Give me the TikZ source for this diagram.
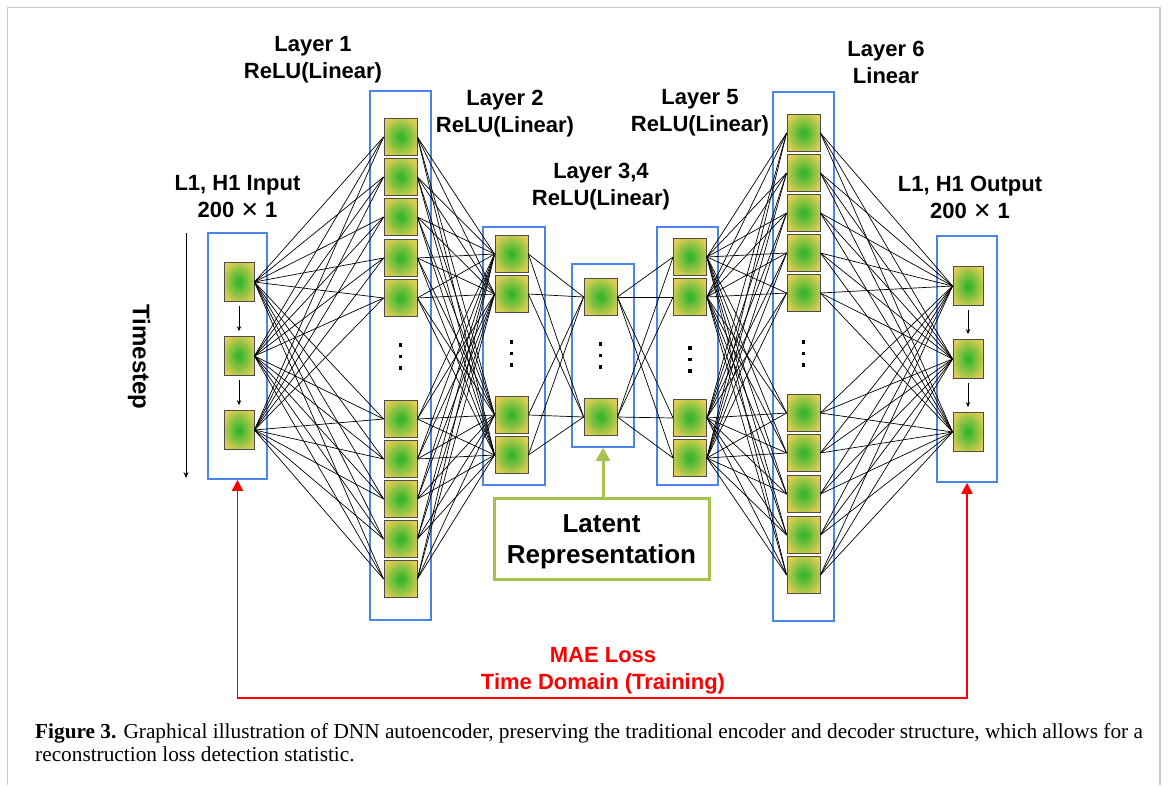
\documentclass[tikz,border=0pt]{standalone}
\usepackage{fontspec}
\setmainfont{Liberation Sans}
\newfontfamily\capfont{Liberation Serif}
\newfontfamily\symf{DejaVu Sans}
\usetikzlibrary{arrows.meta}
\definecolor{ngreen}{RGB}{56,182,46}
\definecolor{nyellow}{RGB}{226,206,84}
\definecolor{boxblue}{RGB}{74,134,232}
\definecolor{olive}{RGB}{164,194,76}
\definecolor{lossred}{RGB}{255,0,0}
\definecolor{framegray}{RGB}{200,200,200}
\pgfdeclareradialshading{neuronshade}{\pgfpoint{0bp}{0bp}}{color(0bp)=(ngreen); color(3bp)=(ngreen); color(30bp)=(nyellow); color(50bp)=(nyellow)}
\tikzset{
  neuron/.style={draw=black!70, line width=0.8pt, minimum width=33pt, minimum height=37pt, inner sep=0pt, shading=neuronshade},
  ioneuron/.style={neuron, minimum width=30pt, minimum height=39pt},
  layerbox/.style={draw=boxblue, line width=1.6pt, inner sep=0pt},
  conn/.style={line width=0.7pt, black},
  lbl/.style={font=\bfseries\fontsize{22}{27}\selectfont, align=center, inner sep=0pt},
  smallarrow/.style={line width=0.8pt, -{Stealth[length=5pt,width=4.5pt]}, shorten <=4pt, shorten >=5pt},
  lossline/.style={draw=lossred, line width=1.6pt, {Triangle[width=11pt,length=11pt]}-{Triangle[width=11pt,length=11pt]}},
  latarrow/.style={draw=olive, line width=3pt, -{Triangle[width=14pt,length=13pt]}},
}
\begin{document}
\begin{tikzpicture}[x=1pt,y=-1pt]
\useasboundingbox (0,0) rectangle (1170,785);
% frame
\draw[framegray, line width=1.5pt] (7.5,785) -- (7.5,7.5) -- (1160,7.5) -- (1160,785);

% layer boxes
\node[layerbox, minimum width=59pt, minimum height=246pt] (b0) at (237.5,356) {};
\node[layerbox, minimum width=61pt, minimum height=529pt] (b1) at (400.5,355.5) {};
\node[layerbox, minimum width=62pt, minimum height=258pt] (b2) at (514,356) {};
\node[layerbox, minimum width=62pt, minimum height=183pt] (b3) at (603,355.5) {};
\node[layerbox, minimum width=61pt, minimum height=258pt] (b5) at (687.5,356) {};
\node[layerbox, minimum width=61pt, minimum height=529pt] (b6) at (803.5,356.5) {};
\node[layerbox, minimum width=60pt, minimum height=246pt] (b7) at (967,359) {};

% neuron positions
\foreach \y [count=\i] in {282,356,430} \coordinate (p0-\i) at (239,\y);
\foreach \y [count=\i] in {137,177,217,258,298,419,459,499,539,579} \coordinate (p1-\i) at (400.5,\y);
\foreach \y [count=\i] in {254,294,415,455} \coordinate (p2-\i) at (511.5,\y);
\foreach \y [count=\i] in {297,417} \coordinate (p3-\i) at (600.5,\y);
\foreach \y [count=\i] in {257,297,418,458} \coordinate (p5-\i) at (690,\y);
\foreach \y [count=\i] in {133,173,213,253,293,413,453,494,535,575} \coordinate (p6-\i) at (803.5,\y);
\foreach \y [count=\i] in {286,359,432} \coordinate (p7-\i) at (968,\y);

% neurons
\foreach \i in {1,...,3} \node[ioneuron] (n0-\i) at (p0-\i) {};
\foreach \i in {1,...,10} \node[neuron] (n1-\i) at (p1-\i) {};
\foreach \i in {1,...,4} \node[neuron] (n2-\i) at (p2-\i) {};
\foreach \i in {1,...,2} \node[neuron] (n3-\i) at (p3-\i) {};
\foreach \i in {1,...,4} \node[neuron] (n5-\i) at (p5-\i) {};
\foreach \i in {1,...,10} \node[neuron] (n6-\i) at (p6-\i) {};
\foreach \i in {1,...,3} \node[ioneuron] (n7-\i) at (p7-\i) {};

% connections
\foreach \a in {1,...,3} \foreach \b in {1,...,10} \draw[conn] (n0-\a.east) -- (n1-\b.west);
\foreach \a in {1,...,10} \foreach \b in {1,...,4} \draw[conn] (n1-\a.east) -- (n2-\b.west);
\foreach \a in {1,...,4} \foreach \b in {1,...,2} \draw[conn] (n2-\a.east) -- (n3-\b.west);
\foreach \a in {1,...,2} \foreach \b in {1,...,4} \draw[conn] (n3-\a.east) -- (n5-\b.west);
\foreach \a in {1,...,4} \foreach \b in {1,...,10} \draw[conn] (n5-\a.east) -- (n6-\b.west);
\foreach \a in {1,...,10} \foreach \b in {1,...,3} \draw[conn] (n6-\a.east) -- (n7-\b.west);

% small arrows inside input / output
\draw[smallarrow] (n0-1) -- (n0-2);
\draw[smallarrow] (n0-2) -- (n0-3);
\draw[smallarrow] (n7-1) -- (n7-2);
\draw[smallarrow] (n7-2) -- (n7-3);

% vertical dots
\foreach \x/\ya in {400.5/345, 511.5/342, 600.5/344, 690/348, 803.5/342}
  \foreach \d in {0,11.5,23} \fill (\x-1.6,\ya+\d-1.6) rectangle (\x+1.6,\ya+\d+1.6);

% timestep
\coordinate (ts1) at (186,233);
\coordinate (ts2) at (186,478);
\draw[line width=0.9pt, -{Stealth[length=6pt,width=5pt]}] (ts1) -- (ts2);
\node[lbl, rotate=-90, font=\bfseries\fontsize{24}{28}\selectfont] (tslabel) at (139,357) {Timestep};

% labels
\node[lbl] (l0) at (237.5,197) {L1, H1 Input\\200 {\symf\bfseries ✕} 1};
\node[lbl] (l1) at (313,59.5) {Layer 1\\ReLU(Linear)};
\node[lbl] (l2) at (505,113.5) {Layer 2\\ReLU(Linear)};
\node[lbl] (l3) at (601,186.5) {Layer 3,4\\ReLU(Linear)};
\node[lbl] (l5) at (700,113) {Layer 5\\ReLU(Linear)};
\node[lbl] (l6) at (886,62.5) {Layer 6\\Linear};
\node[lbl] (l7) at (970,197.5) {L1, H1 Output\\200 {\symf\bfseries ✕} 1};

% latent representation
\node[draw=olive, line width=3pt, minimum width=215pt, minimum height=81pt, inner sep=0pt,
      font=\bfseries\fontsize{26}{31}\selectfont, align=center] (lat) at (601.5,538.5) {\rule{0pt}{24pt}Latent\\Representation};
\draw[latarrow] (lat.north -| b3.south) -- (b3.south);

% MAE loss
\node[lbl, text=lossred] (mae) at (603,671) {MAE Loss\\Time Domain (Training)};
\coordinate (lossmid) at (603,698);
\draw[lossline] (b0.south) |- (lossmid) -| (b7.south);

% caption
\node[anchor=north west, inner sep=0pt, align=left, font=\capfont\fontsize{21.3}{23.5}\selectfont] (cap) at (35,723)
  {\textbf{Figure 3.} Graphical illustration of DNN autoencoder, preserving the traditional encoder and decoder structure, which allows for a\\reconstruction loss detection statistic.};
\end{tikzpicture}
\end{document}
